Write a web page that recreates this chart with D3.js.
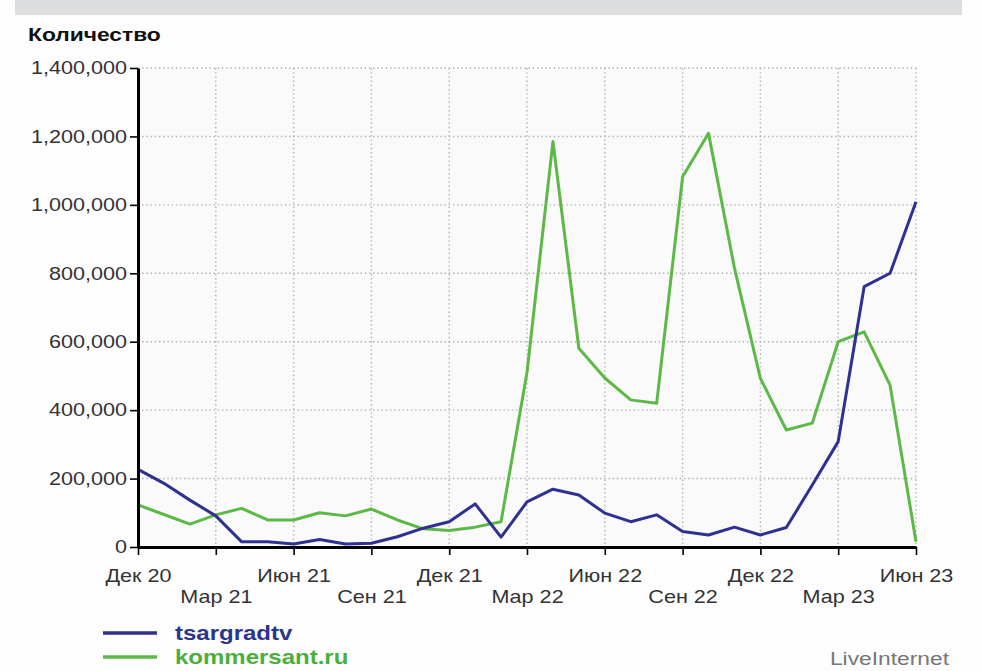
<!DOCTYPE html>
<html>
<head>
<meta charset="utf-8">
<script src="https://cdn.jsdelivr.net/npm/d3@7"></script>
<style>
  html, body { margin: 0; padding: 0; background: #fdfdfd; }
  svg { display: block; font-family: "Liberation Sans", Arial, sans-serif; }
</style>
</head>
<body>
<svg id="chart" width="982" height="671"></svg>
<script>
// ---- data (monthly, Дек 20 … Июн 23) ----
const months = ["2020-12","2021-01","2021-02","2021-03","2021-04","2021-05","2021-06","2021-07","2021-08","2021-09","2021-10","2021-11","2021-12","2022-01","2022-02","2022-03","2022-04","2022-05","2022-06","2022-07","2022-08","2022-09","2022-10","2022-11","2022-12","2023-01","2023-02","2023-03","2023-04","2023-05","2023-06"];
const tsargradtv = [227000,186000,137000,91000,15000,15000,9000,22000,9000,11000,30000,55000,74000,126000,29000,132000,169000,152000,99000,74000,94000,45000,35000,58000,35000,57000,181000,308000,761000,800000,1009000];
const kommersant = [123000,95000,67000,94000,113000,79000,79000,100000,91000,111000,79000,53000,48000,58000,74000,510000,1185000,581000,494000,430000,420000,1082000,1209000,815000,493000,342000,362000,600000,629000,473000,15000];
const xTickLabels = ["Дек 20","Мар 21","Июн 21","Сен 21","Дек 21","Мар 22","Июн 22","Сен 22","Дек 22","Мар 23","Июн 23"];
const yTickValues = [0,200000,400000,600000,800000,1000000,1200000,1400000];
const seriesNames = ["tsargradtv","kommersant.ru"];
const seriesColors = ["#2e3192","#5cb947"];
const legendTextColors = ["#2b3590","#4cae3c"];

// ---- layout ----
const SX = 1.2; // horizontal stretch of the reference's lettering
const pLeft = 138, pRight = 916, pTop = 68, pBottom = 547;
const svg = d3.select("#chart");

// top grey band
svg.append("rect").attr("x", 15).attr("y", 0).attr("width", 947).attr("height", 15).attr("fill", "#dcdddf");

const x = d3.scaleLinear().domain([0, months.length - 1]).range([pLeft, pRight]);
const y = d3.scaleLinear().domain([0, 1400000]).range([pBottom, pTop]);
const xTickIdx = d3.range(0, months.length, 3);

// plot background
svg.append("rect").attr("x", pLeft).attr("y", pTop).attr("width", pRight - pLeft).attr("height", pBottom - pTop).attr("fill", "#fafafa");

// grid
const grid = svg.append("g").attr("stroke", "#b0b0b0").attr("stroke-width", 1.4).attr("stroke-dasharray", "1.4 2.8");
grid.selectAll("line.h").data(yTickValues.filter(v => v > 0)).join("line").attr("class", "h")
  .attr("x1", pLeft).attr("x2", pRight).attr("y1", d => y(d)).attr("y2", d => y(d));
grid.selectAll("line.v").data(xTickIdx.filter(i => i > 0)).join("line").attr("class", "v")
  .attr("x1", d => x(d)).attr("x2", d => x(d)).attr("y1", pTop).attr("y2", pBottom);

// series lines (green under blue)
const line = d3.line().x((d, i) => x(i)).y(d => y(d));
svg.append("path").datum(kommersant).attr("fill", "none").attr("stroke", seriesColors[1])
  .attr("stroke-width", 3).attr("stroke-linejoin", "round").attr("d", line);
svg.append("path").datum(tsargradtv).attr("fill", "none").attr("stroke", seriesColors[0])
  .attr("stroke-width", 3).attr("stroke-linejoin", "round").attr("d", line);

// axes
const yAxis = svg.append("g").attr("transform", `translate(${pLeft},0)`)
  .call(d3.axisLeft(y).tickValues(yTickValues).tickFormat(d3.format(",")).tickSize(8).tickSizeOuter(0).tickPadding(3));
const xAxis = svg.append("g").attr("transform", `translate(0,${pBottom})`)
  .call(d3.axisBottom(x).tickValues(xTickIdx).tickFormat((d, i) => xTickLabels[i]).tickSize(8).tickSizeOuter(0));

[yAxis, xAxis].forEach(a => {
  a.select(".domain").attr("stroke", "#000").attr("stroke-width", 3);
  a.selectAll(".tick line").attr("stroke", "#000").attr("stroke-width", 1.6);
  a.selectAll(".tick text").attr("fill", "#333").attr("font-size", 18).attr("font-family", "Liberation Sans, Arial, sans-serif");
});
yAxis.selectAll(".tick text").attr("x", -11 / SX).attr("transform", `scale(${SX},1)`);
xAxis.selectAll(".tick text").attr("dy", 0).attr("transform", `scale(${SX},1)`)
  .attr("y", (d, i) => i % 2 === 0 ? 35 : 56);

// title
svg.append("text").attr("transform", `translate(28,41) scale(${SX},1)`)
  .attr("font-size", 19).attr("font-weight", "bold").attr("fill", "#111").text("Количество");

// legend
const lg = svg.append("g");
seriesNames.forEach((name, i) => {
  const ly = 633 + i * 24;
  lg.append("line").attr("x1", 103).attr("x2", 157).attr("y1", ly).attr("y2", ly)
    .attr("stroke", seriesColors[i]).attr("stroke-width", 3.5);
  lg.append("text").attr("transform", `translate(175,${ly + 7}) scale(${SX},1)`)
    .attr("font-size", 20).attr("font-weight", "bold").attr("fill", legendTextColors[i]).text(name);
});

// watermark
svg.append("text").attr("transform", `translate(949,665) scale(${SX},1)`).attr("text-anchor", "end")
  .attr("font-size", 19).attr("fill", "#777").text("LiveInternet");
</script>
</body>
</html>
